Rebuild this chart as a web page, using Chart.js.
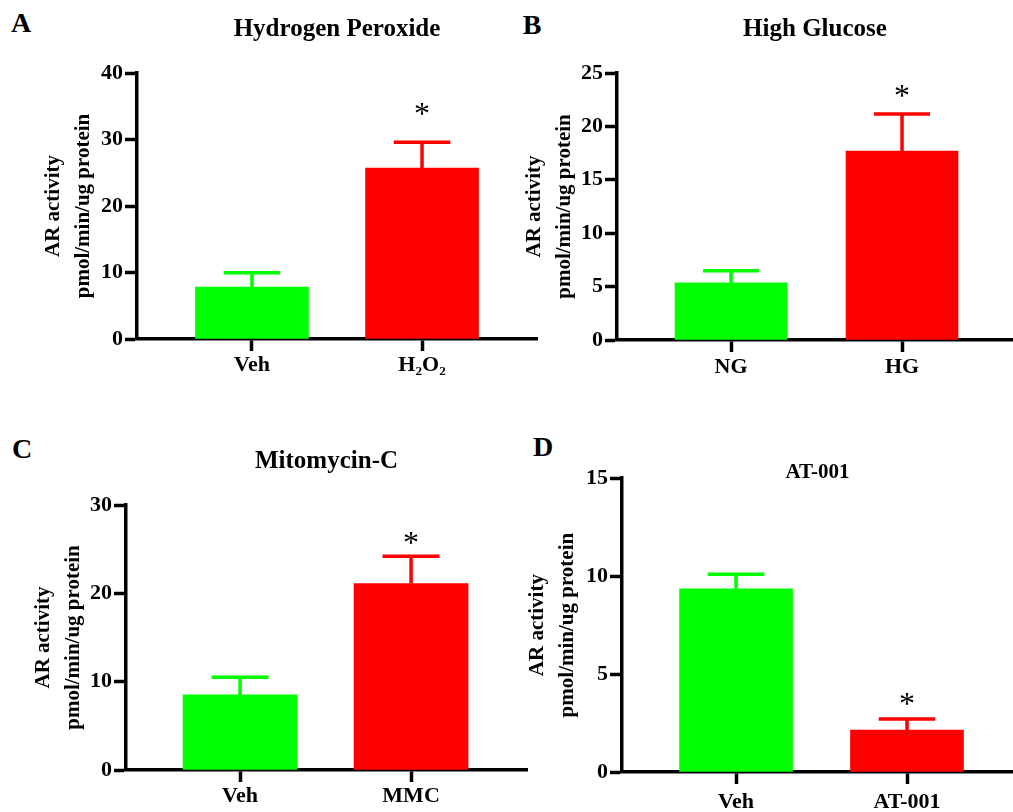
<!DOCTYPE html>
<html>
<head>
<meta charset="utf-8">
<script src="https://cdn.jsdelivr.net/npm/chart.js@4.4.0/dist/chart.umd.min.js"></script>
<style>
  html, body { margin: 0; padding: 0; background: #fff; }
  body { width: 1013px; height: 812px; position: relative; overflow: hidden; }
  canvas { position: absolute; }
  .lettre { position: absolute; font: bold 28px 'Liberation Serif', 'Times New Roman', serif; line-height: 1; transform: translate(-50%, -50%); color: #000; }
</style>
</head>
<body>
<div class="lettre" style="left:21px;top:23px">A</div>
<div class="lettre" style="left:532px;top:25px">B</div>
<div class="lettre" style="left:22px;top:449px">C</div>
<div class="lettre" style="left:543px;top:447px">D</div>

<canvas id="grapheA" style="left:0;top:0" width="540" height="410"></canvas>
<canvas id="grapheB" style="left:500px;top:0" width="513" height="410"></canvas>
<canvas id="grapheC" style="left:0;top:420px" width="540" height="392"></canvas>
<canvas id="grapheD" style="left:500px;top:420px" width="513" height="392"></canvas>

<script>
// données (moyenne + barre d'erreur supérieure)
const labelsA = ['Veh', 'H₂O₂'];
const moyennesA = [7.8, 25.7];
const erreursA = [2.15, 3.9];
const signifA = ['', '*'];

const labelsB = ['NG', 'HG'];
const moyennesB = [5.35, 17.7];
const erreursB = [1.14, 3.45];
const signifB = ['', '*'];

const labelsC = ['Veh', 'MMC'];
const moyennesC = [8.5, 21.1];
const erreursC = [2.0, 3.1];
const signifC = ['', '*'];

const labelsD = ['Veh', 'AT-001'];
const moyennesD = [9.35, 2.14];
const erreursD = [0.74, 0.56];
const signifD = ['', '*'];

const titreY = ['AR activity', 'pmol/min/ug protein'];
const couleurs = ['#00ff00', '#ff0000'];
const police = "'Liberation Serif', 'Times New Roman', 'DejaVu Serif', serif";

// barres d'erreur + étoiles
const barresErreur = {
  id: 'barresErreur',
  afterDatasetsDraw(chart) {
    const ctx = chart.ctx;
    const yEch = chart.scales.y;
    chart.data.datasets.forEach((ds, di) => {
      const meta = chart.getDatasetMeta(di);
      meta.data.forEach((barre, i) => {
        const haut = yEch.getPixelForValue(ds.data[i].y + ds.erreurs[i]);
        const demi = barre.width / 4;
        ctx.save();
        ctx.strokeStyle = ds.backgroundColor[i];
        ctx.lineWidth = 3.5;
        ctx.beginPath();
        ctx.moveTo(barre.x, barre.y);
        ctx.lineTo(barre.x, haut);
        ctx.moveTo(barre.x - demi, haut);
        ctx.lineTo(barre.x + demi, haut);
        ctx.stroke();
        if (ds.signif[i]) {
          ctx.fillStyle = '#000';
          ctx.font = '32px ' + police;
          ctx.textAlign = 'center';
          ctx.textBaseline = 'alphabetic';
          ctx.fillText(ds.signif[i], barre.x, haut - ds.ecartEtoile + 16);
        }
        ctx.restore();
      });
    });
  }
};

function creerGraphe(id, p) {
  const ctx = document.getElementById(id).getContext('2d');
  return new Chart(ctx, {
    type: 'bar',
    data: {
      datasets: [{
        data: p.labels.map((l, i) => ({ x: i, y: p.moyennes[i] })),
        backgroundColor: couleurs,
        borderWidth: 0,
        barThickness: p.barre,
        erreurs: p.erreurs,
        signif: p.signif,
        ecartEtoile: p.ecartEtoile
      }]
    },
    options: {
      responsive: false,
      animation: false,
      devicePixelRatio: 1,
      layout: { padding: { left: 0, right: p.padDroite, top: 0, bottom: 0 } },
      plugins: {
        legend: { display: false },
        tooltip: { enabled: false },
        title: {
          display: true,
          text: p.titre,
          fullSize: false,
          color: '#000',
          font: { family: police, size: p.tailleTitre, weight: 'bold', lineHeight: 1.2 },
          padding: p.titrePad
        }
      },
      scales: {
        x: {
          type: 'linear',
          offset: false,
          min: p.xMin,
          max: p.xMax,
          afterBuildTicks: s => { s.ticks = p.labels.map((l, i) => ({ value: i })); },
          afterFit: s => { s.height = p.hauteurX; },
          ticks: {
            callback: v => p.labels[v],
            color: '#000',
            autoSkip: false,
            maxRotation: 0,
            padding: p.padX,
            font: { family: police, size: 22, weight: 'bold' }
          },
          grid: { offset: false, drawOnChartArea: false, drawTicks: true, tickLength: 12, tickWidth: 3.5, tickColor: '#000' },
          border: { display: true, color: '#000', width: 3.5 }
        },
        y: {
          min: 0,
          max: p.yMax,
          afterFit: s => { s.width = p.largeurY; },
          ticks: {
            stepSize: p.pas,
            color: '#000',
            padding: 2,
            font: { family: police, size: 22, weight: 'bold' }
          },
          grid: { drawOnChartArea: false, drawTicks: true, tickLength: 12, tickWidth: 3.5, tickColor: '#000' },
          border: { display: true, color: '#000', width: 3.5 },
          title: {
            display: true,
            text: titreY,
            color: '#000',
            font: { family: police, size: 21, weight: 'bold', lineHeight: 1.4 },
            padding: { top: p.titreYPad, bottom: 0 }
          }
        }
      }
    },
    plugins: [barresErreur]
  });
}

creerGraphe('grapheA', {
  labels: labelsA, moyennes: moyennesA, erreurs: erreursA, signif: signifA,
  titre: 'Hydrogen Peroxide', tailleTitre: 25, titrePad: { top: 15, bottom: 28 },
  largeurY: 137, titreYPad: 39, hauteurX: 71, padX: 1, padDroite: 3,
  xMin: -0.676, xMax: 1.676, barre: 113, yMax: 40, pas: 10, ecartEtoile: 34
});

creerGraphe('grapheB', {
  labels: labelsB, moyennes: moyennesB, erreurs: erreursB, signif: signifB,
  titre: 'High Glucose', tailleTitre: 25, titrePad: { top: 15, bottom: 28 },
  largeurY: 117, titreYPad: 20, hauteurX: 70, padX: 2, padDroite: 0,
  xMin: -0.667, xMax: 1.649, barre: 112, yMax: 25, pas: 5, ecartEtoile: 24
});

creerGraphe('grapheC', {
  labels: labelsC, moyennes: moyennesC, erreurs: erreursC, signif: signifC,
  titre: 'Mitomycin-C', tailleTitre: 25, titrePad: { top: 27, bottom: 28 },
  largeurY: 126, titreYPad: 29, hauteurX: 42, padX: 1, padDroite: 13,
  xMin: -0.667, xMax: 1.678, barre: 114, yMax: 30, pas: 10, ecartEtoile: 19
});

creerGraphe('grapheD', {
  labels: labelsD, moyennes: moyennesD, erreurs: erreursD, signif: signifD,
  titre: 'AT-001', tailleTitre: 21, titrePad: { top: 40, bottom: -7 },
  largeurY: 122, titreYPad: 23, hauteurX: 40, padX: 5, padDroite: 0,
  xMin: -0.667, xMax: 1.62, barre: 113, yMax: 15, pas: 5, ecartEtoile: 21
});
</script>
</body>
</html>
